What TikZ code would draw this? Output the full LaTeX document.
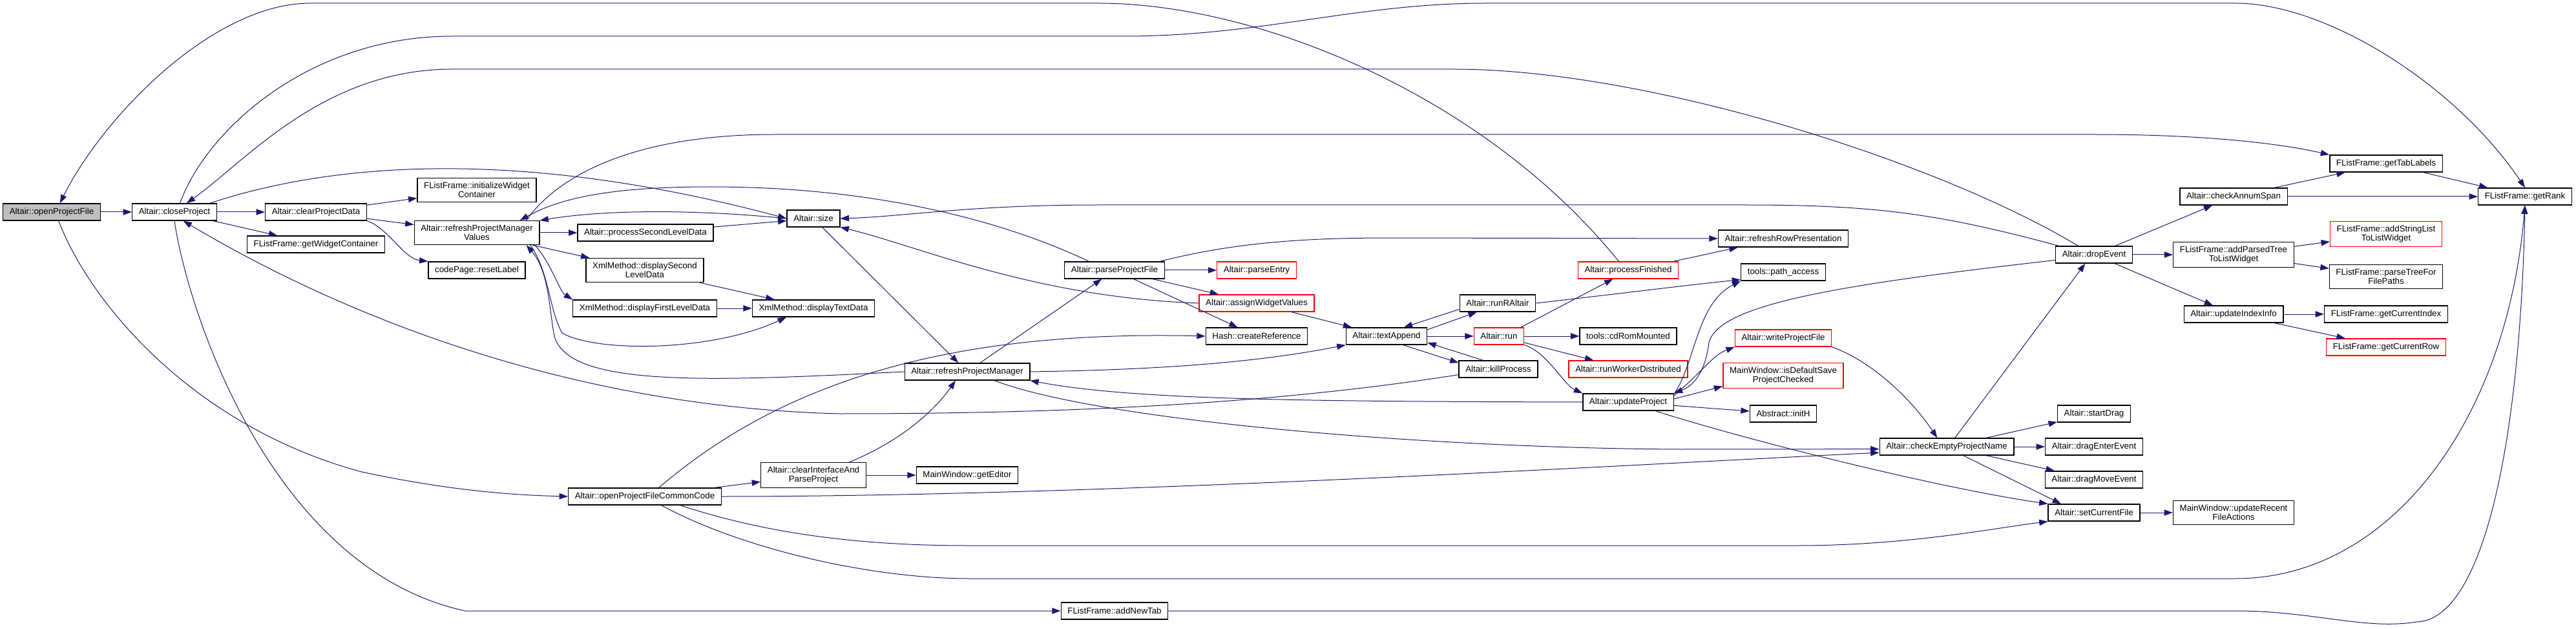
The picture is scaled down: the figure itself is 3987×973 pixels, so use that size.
\documentclass[tikz,border=0pt]{standalone}
\usepackage{fontspec}
\setmainfont{Liberation Sans}
\usetikzlibrary{arrows.meta}
\definecolor{edgeblue}{HTML}{191970}
\definecolor{rootgray}{HTML}{BFBFBF}

\begin{document}
\begin{tikzpicture}[x=0.75pt,y=-0.75pt,
    fn/.style={draw=black,line width=1pt,fill=white,align=center,
      font=\fontsize{10}{10.5}\selectfont,inner xsep=7.6pt,inner ysep=4.9pt,minimum height=19.5pt},
    trunc/.style={fn,draw=red},
    root/.style={fn,fill=rootgray},
    call/.style={draw=edgeblue,line width=0.75pt,-{Triangle[length=10pt,width=7pt]}}]
    \useasboundingbox (0,0) rectangle (3987,973);

    \node[root] (opf) at (80,328) {Altair::openProjectFile};
    \node[fn] (closeprj) at (270,328) {Altair::closeProject};
    \node[fn] (clrdata) at (489,328) {Altair::clearProjectData};
    \node[fn] (getwc) at (489,378) {FListFrame::getWidgetContainer};
    \node[fn] (initwc) at (738,294) {FListFrame::initializeWidget\\Container};
    \node[fn] (rpmv) at (738,360) {Altair::refreshProjectManager\\Values};
    \node[fn] (reslab) at (738,418) {codePage::resetLabel};
    \node[fn] (procsec) at (999,360) {Altair::processSecondLevelData};
    \node[fn] (dispsec) at (998,418) {XmlMethod::displaySecond\\LevelData};
    \node[fn] (dispfirst) at (998,477) {XmlMethod::displayFirstLevelData};
    \node[fn] (opfcc) at (998,768) {Altair::openProjectFileCommonCode};
    \node[fn] (size) at (1259,338) {Altair::size};
    \node[fn] (disptext) at (1259,477) {XmlMethod::displayTextData};
    \node[fn] (clrparse) at (1259,735) {Altair::clearInterfaceAnd\\ParseProject};
    \node[fn] (rpm) at (1497,575) {Altair::refreshProjectManager};
    \node[fn] (geted) at (1497,735) {MainWindow::getEditor};
    \node[fn] (parsepf) at (1725,418) {Altair::parseProjectFile};
    \node[fn] (addtab) at (1725,945) {FListFrame::addNewTab};
    \node[trunc] (parseent) at (1945,418) {Altair::parseEntry};
    \node[trunc] (assign) at (1945,469) {Altair::assignWidgetValues};
    \node[fn] (hashref) at (1945,520) {Hash::createReference};
    \node[fn] (textapp) at (2146,520) {Altair::textAppend};
    \node[fn] (runr) at (2318,469) {Altair::runRAltair};
    \node[trunc] (run) at (2320,520) {Altair::run};
    \node[fn] (kill) at (2319,571) {Altair::killProcess};
    \node[trunc] (procfin) at (2520,418) {Altair::processFinished};
    \node[fn] (cdrom) at (2520,520) {tools::cdRomMounted};
    \node[trunc] (runwd) at (2520,571) {Altair::runWorkerDistributed};
    \node[fn] (updprj) at (2520,622) {Altair::updateProject};
    \node[fn] (rowpres) at (2760,369) {Altair::refreshRowPresentation};
    \node[fn] (pathacc) at (2760,421) {tools::path\_access};
    \node[trunc] (writepf) at (2760,523) {Altair::writeProjectFile};
    \node[trunc] (isdef) at (2760,581) {MainWindow::isDefaultSave\\ProjectChecked};
    \node[fn] (inith) at (2760,640) {Abstract::initH};
    \node[fn] (chkempty) at (3013,691) {Altair::checkEmptyProjectName};
    \node[fn] (drop) at (3241,394) {Altair::dropEvent};
    \node[fn] (startdrag) at (3241,640) {Altair::startDrag};
    \node[fn] (dragenter) at (3241,691) {Altair::dragEnterEvent};
    \node[fn] (dragmove) at (3241,742) {Altair::dragMoveEvent};
    \node[fn] (setcur) at (3241,793) {Altair::setCurrentFile};
    \node[fn] (annum) at (3457,304) {Altair::checkAnnumSpan};
    \node[fn] (addparsed) at (3457,394) {FListFrame::addParsedTree\\ToListWidget};
    \node[fn] (updidx) at (3457,486) {Altair::updateIndexInfo};
    \node[fn] (recent) at (3457,793) {MainWindow::updateRecent\\FileActions};
    \node[fn] (tablabels) at (3693,253) {FListFrame::getTabLabels};
    \node[trunc] (addstr) at (3693,362) {FListFrame::addStringList\\ToListWidget};
    \node[fn] (parsetree) at (3693,428) {FListFrame::parseTreeFor\\FilePaths};
    \node[fn] (curidx) at (3693,486) {FListFrame::getCurrentIndex};
    \node[trunc] (currow) at (3693,537) {FListFrame::getCurrentRow};
    \node[fn] (getrank) at (3908,304) {FListFrame::getRank};

    \draw[call] (opf) -- (closeprj);
    \draw[call] (opf.-52) .. controls (140,470) and (300,660) .. (560,730)
        .. controls (700,760) and (800,766) .. (opfcc.west);
    \draw[call] (procfin.137) .. controls (2300,150) and (1950,5) .. (1700,5) -- (480,5)
        .. controls (330,5) and (160,180) .. (opf.47);
    \draw[call] (closeprj) -- (clrdata);
    \draw[call] (closeprj) -- (getwc);
    \draw[call] (closeprj.south) .. controls (290,480) and (420,880) .. (720,945) -- (addtab.west);
    \draw[call] (closeprj.14) .. controls (550,240) and (850,240) .. (size.west);
    \draw[call] (closeprj.58) .. controls (320,200) and (480,56) .. (700,56) -- (1740,56)
        .. controls (1950,56) and (2100,5) .. (2300,5) -- (3460,5)
        .. controls (3600,5) and (3800,130) .. (getrank.north);
    \draw[call] (drop.151) .. controls (3000,250) and (2550,107) .. (2250,107) -- (700,107)
        .. controls (500,107) and (380,250) .. (closeprj.36);
    \draw[call] (kill.188) .. controls (2000,620) and (1700,640) .. (1300,640)
        .. controls (900,630) and (550,500) .. (closeprj.-45);
    \draw[call] (clrdata) -- (initwc);
    \draw[call] (clrdata) -- (rpmv);
    \draw[call] (clrdata.south east) .. controls (600,352) and (625,400) .. (reslab.north west);
    \draw[call] (rpmv) -- (procsec);
    \draw[call] (rpmv) -- (dispsec);
    \draw[call] (rpmv.-12) .. controls (855,410) and (865,450) .. (dispfirst.north west);
    \draw[call] (rpmv.-13) .. controls (850,420) and (850,480) .. (870,515)
        .. controls (920,545) and (1100,545) .. (disptext.-162);
    \draw[call] (rpm.west) .. controls (1100,590) and (880,600) .. (858,520)
        .. controls (850,480) and (850,420) .. (rpmv.-14);
    \draw[call] (rpmv.14) .. controls (850,290) and (950,208) .. (1200,208) -- (3240,208)
        .. controls (3400,208) and (3520,220) .. (tablabels.north west);
    \draw[call] (parsepf.161) .. controls (1550,340) and (1350,289) .. (1100,289)
        .. controls (950,289) and (870,305) .. (rpmv.16);
    \draw[call] (size.west) .. controls (1100,326) and (950,322) .. (rpmv.11);
    \draw[call] (procsec) -- (size);
    \draw[call] (dispsec) -- (disptext);
    \draw[call] (dispfirst) -- (disptext);
    \draw[call] (drop.166) .. controls (3000,330) and (2900,317) .. (2700,317) -- (1700,317)
        .. controls (1500,317) and (1400,335) .. (size.east);
    \draw[call] (assign.west) .. controls (1600,460) and (1420,380) .. (size.-18);
    \draw[call] (size) -- (rpm);
    \draw[call] (opfcc.32) .. controls (1200,600) and (1450,510) .. (hashref.west);
    \draw[call] (opfcc) -- (clrparse);
    \draw[call] (opfcc.east) .. controls (1700,768) and (2500,720) .. (chkempty.185);
    \draw[call] (opfcc.-14) .. controls (1200,830) and (1350,844) .. (1500,844) -- (2780,844)
        .. controls (2950,844) and (3080,818) .. (setcur.south west);
    \draw[call] (opfcc.-28) .. controls (1150,850) and (1350,895) .. (1500,895) -- (3460,895)
        .. controls (3700,895) and (3880,650) .. (getrank.south);
    \draw[call] (clrparse.20) .. controls (1400,680) and (1450,630) .. (rpm.-143);
    \draw[call] (clrparse) -- (geted);
    \draw[call] (rpm) -- (parsepf);
    \draw[call] (rpm.east) .. controls (1800,572) and (1950,560) .. (textapp.south west);
    \draw[call] (updprj.west) .. controls (2000,621) and (1750,618) .. (rpm.-8);
    \draw[call] (rpm.-18) .. controls (1700,650) and (2200,693) .. (2600,695) -- (chkempty.182);
    \draw[call] (addtab.east) -- (3460,945) .. controls (3580,945) and (3660,975) .. (3740,962)
        .. controls (3840,960) and (3900,700) .. (getrank.south);
    \draw[call] (parsepf) -- (parseent);
    \draw[call] (parsepf) -- (assign);
    \draw[call] (parsepf) -- (hashref);
    \draw[call] (parsepf.11) .. controls (1900,378) and (2000,368) .. (2150,368) -- (rowpres.west);
    \draw[call] (assign) -- (textapp);
    \draw[call] (textapp.9) -- (runr.-157);
    \draw[call] (runr.189) -- (textapp.27);
    \draw[call] (textapp) -- (run);
    \draw[call] (textapp.-28) -- (kill.171);
    \draw[call] (kill.150) -- (textapp.-9);
    \draw[call] (run.22) -- (procfin.-150);
    \draw[call] (runr.east) .. controls (2500,455) and (2620,440) .. (pathacc.190);
    \draw[call] (procfin.11) -- (rowpres.-169);
    \draw[call] (run) -- (cdrom);
    \draw[call] (run) -- (runwd);
    \draw[call] (run.south east) .. controls (2395,545) and (2420,595) .. (updprj.north west);
    \draw[call] (updprj.10) .. controls (2625,560) and (2625,470) .. (pathacc.south west);
    \draw[call] (drop.188) .. controls (2850,440) and (2660,470) .. (2645,530)
        .. controls (2640,570) and (2625,595) .. (updprj.north east);
    \draw[call] (updprj.8) .. controls (2640,570) and (2650,550) .. (writepf.south west);
    \draw[call] (updprj.4) -- (isdef.190);
    \draw[call] (updprj) -- (inith);
    \draw[call] (updprj.-18) .. controls (2700,680) and (3000,755) .. (setcur.north west);
    \draw[call] (writepf.south east) .. controls (2900,560) and (2960,620) .. (chkempty.137);
    \draw[call] (chkempty.47) -- (drop.-135);
    \draw[call] (chkempty) -- (startdrag);
    \draw[call] (chkempty) -- (dragenter);
    \draw[call] (chkempty) -- (dragmove);
    \draw[call] (chkempty.-28) -- (setcur.165);
    \draw[call] (setcur) -- (recent);
    \draw[call] (drop) -- (annum);
    \draw[call] (drop) -- (addparsed);
    \draw[call] (drop) -- (updidx);
    \draw[call] (annum) -- (tablabels);
    \draw[call] (annum) -- (getrank);
    \draw[call] (tablabels) -- (getrank);
    \draw[call] (addparsed) -- (addstr);
    \draw[call] (addparsed) -- (parsetree);
    \draw[call] (updidx) -- (curidx);
    \draw[call] (updidx) -- (currow);
\end{tikzpicture}
\end{document}
